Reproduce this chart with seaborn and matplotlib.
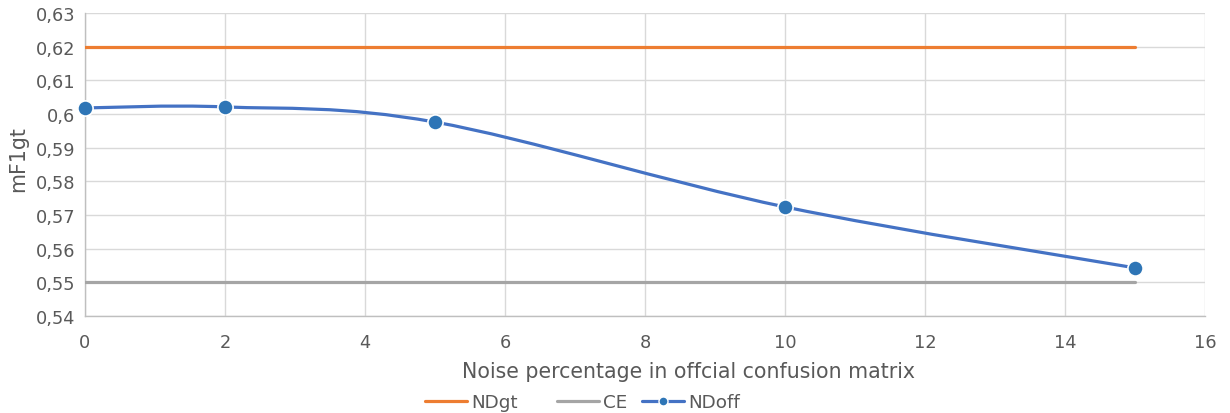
import matplotlib
matplotlib.use("Agg")
import matplotlib.pyplot as plt
import seaborn as sns
import numpy as np
import pandas as pd
from matplotlib.path import Path
from matplotlib.patches import PathPatch
from matplotlib.lines import Line2D
from matplotlib.ticker import FuncFormatter, MultipleLocator

# ---- data ----
noise = [0, 2, 5, 10, 15]
nd_gt = [0.62, 0.62, 0.62, 0.62, 0.62]
ce = [0.55, 0.55, 0.55, 0.55, 0.55]
nd_off = [0.6018, 0.6021, 0.5976, 0.5724, 0.5543]
series_names = ["NDgt", "CE", "NDoff"]

x_label = "Noise percentage in offcial confusion matrix"
y_label = "mF1gt"

c_orange = "#ED7D31"
c_grey = "#A5A5A5"
c_blue = "#4472C4"
c_marker = "#2E75B6"
txt = "#595959"

sns.set_theme(style="white")
plt.rcParams["font.family"] = ["DejaVu Sans"]

fig = plt.figure(figsize=(12.3, 4.14), dpi=100)
ax = fig.add_axes([85 / 1230, 1 - 317 / 414, 1120 / 1230, 303 / 414])

df_gt = pd.DataFrame({"x": noise, "y": nd_gt})
df_ce = pd.DataFrame({"x": noise, "y": ce})
df_off = pd.DataFrame({"x": noise, "y": nd_off})

sns.lineplot(data=df_gt, x="x", y="y", ax=ax, color=c_orange, lw=2.3, zorder=3)
sns.lineplot(data=df_ce, x="x", y="y", ax=ax, color=c_grey, lw=2.3, zorder=3)

# smoothed line (Excel-style bezier through the data points)
px = np.array(noise, dtype=float)
py = np.array(nd_off, dtype=float)
n = len(px)
verts = [(px[0], py[0])]
codes = [Path.MOVETO]
for i in range(n - 1):
    p_prev = (px[max(i - 1, 0)], py[max(i - 1, 0)])
    p_i = (px[i], py[i])
    p_n = (px[i + 1], py[i + 1])
    p_nn = (px[min(i + 2, n - 1)], py[min(i + 2, n - 1)])
    c1 = (p_i[0] + (p_n[0] - p_prev[0]) / 6, p_i[1] + (p_n[1] - p_prev[1]) / 6)
    c2 = (p_n[0] - (p_nn[0] - p_i[0]) / 6, p_n[1] - (p_nn[1] - p_i[1]) / 6)
    verts += [c1, c2, p_n]
    codes += [Path.CURVE4, Path.CURVE4, Path.CURVE4]
patch = PathPatch(Path(verts, codes), facecolor="none", edgecolor=c_blue, lw=2.3,
                  transform=ax.transData, zorder=4)
ax.add_patch(patch)
sns.scatterplot(data=df_off, x="x", y="y", ax=ax, color=c_marker, s=120,
                edgecolor="white", linewidth=1.2, zorder=5, clip_on=False)

ax.set_xlim(0, 16)
ax.set_ylim(0.54, 0.63)
ax.xaxis.set_major_locator(MultipleLocator(2))
ax.yaxis.set_major_locator(MultipleLocator(0.01))
ax.yaxis.set_major_formatter(FuncFormatter(lambda v, p: f"{round(v, 2):g}".replace(".", ",")))

ax.grid(True, color="#D9D9D9", lw=1.0)
ax.set_axisbelow(True)
for s in ["top", "right"]:
    ax.spines[s].set_visible(False)
for s in ["left", "bottom"]:
    ax.spines[s].set_color("#BFBFBF")
    ax.spines[s].set_linewidth(1.0)

ax.tick_params(axis="both", colors=txt, labelsize=12.8, length=0)
ax.tick_params(axis="x", pad=12)
ax.tick_params(axis="y", pad=7)
ax.set_xlabel(x_label, color=txt, fontsize=14.8)
ax.set_ylabel(y_label, color=txt, fontsize=14.8)
ax.xaxis.set_label_coords((689 - 85) / 1120, -(372 - 317) / 303)
ax.xaxis.label.set_va("center")
ax.yaxis.set_label_coords(-(85 - 18) / 1120, (317 - 159.5) / 303)
ax.yaxis.label.set_va("center")

handles = [
    Line2D([], [], color=c_orange, lw=2.3),
    Line2D([], [], color=c_grey, lw=2.3),
    Line2D([], [], color=c_blue, lw=2.3, marker="o", markersize=6.5,
           markerfacecolor=c_marker, markeredgecolor="white", markeredgewidth=1.0),
]
lefts = [425, 557, 642]
for h, name, lx in zip(handles, series_names, lefts):
    fig.legend([h], [name], loc="center left", frameon=False,
               bbox_to_anchor=(lx / 1230, 11 / 414), fontsize=13.2, labelcolor=txt,
               handlelength=2.3, handletextpad=0.2, borderpad=0, borderaxespad=0)

fig.savefig("out.png", dpi=100)
